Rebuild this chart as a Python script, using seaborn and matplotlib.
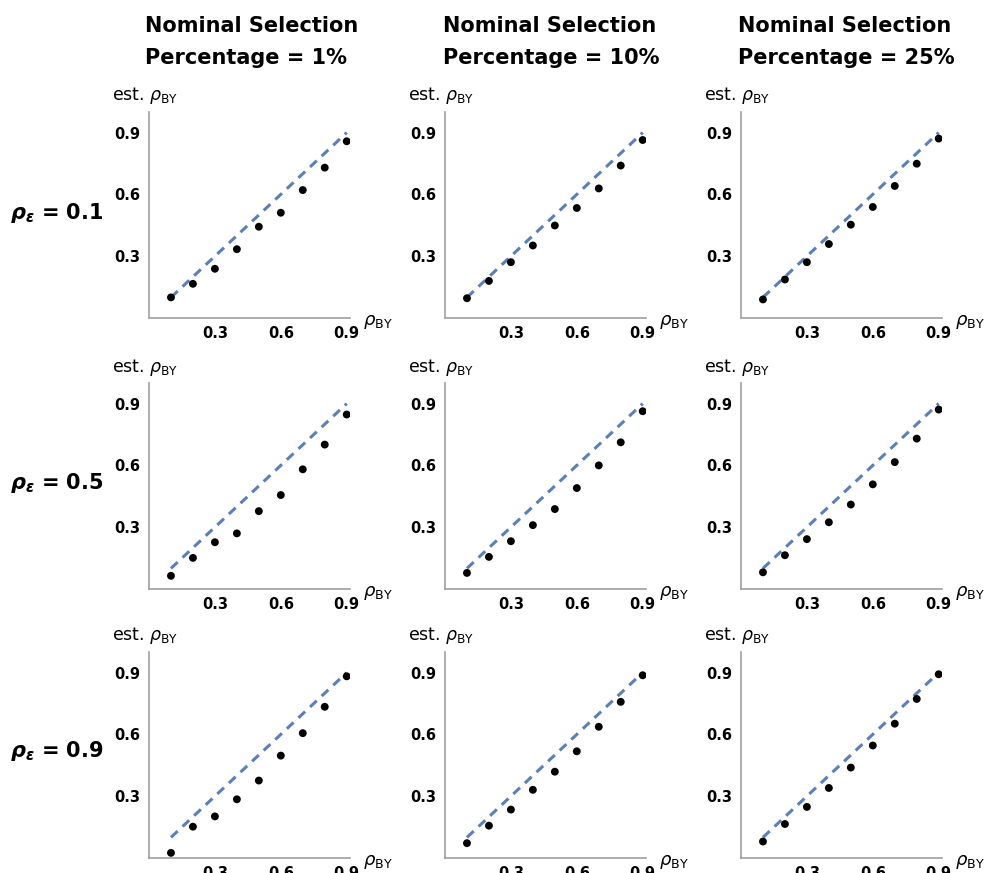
import pandas as pd
import matplotlib.pyplot as plt
import seaborn as sns

# true correlation on the x axis
rho_by = [0.1, 0.2, 0.3, 0.4, 0.5, 0.6, 0.7, 0.8, 0.9]

# estimated correlation, one list per panel (row = rho_eps, col = selection %)
est_e01_p01 = [0.100, 0.166, 0.239, 0.334, 0.443, 0.511, 0.621, 0.730, 0.858]
est_e01_p10 = [0.096, 0.180, 0.271, 0.352, 0.449, 0.534, 0.629, 0.740, 0.864]
est_e01_p25 = [0.090, 0.187, 0.271, 0.359, 0.453, 0.539, 0.641, 0.749, 0.871]
est_e05_p01 = [0.064, 0.151, 0.227, 0.270, 0.378, 0.456, 0.581, 0.701, 0.847]
est_e05_p10 = [0.078, 0.156, 0.232, 0.310, 0.388, 0.490, 0.600, 0.712, 0.863]
est_e05_p25 = [0.081, 0.164, 0.242, 0.324, 0.410, 0.508, 0.616, 0.730, 0.871]
est_e09_p01 = [0.025, 0.152, 0.202, 0.285, 0.376, 0.497, 0.606, 0.734, 0.882]
est_e09_p10 = [0.072, 0.157, 0.235, 0.331, 0.419, 0.518, 0.637, 0.758, 0.887]
est_e09_p25 = [0.080, 0.165, 0.248, 0.340, 0.439, 0.546, 0.652, 0.772, 0.892]

col_titles = ["Nominal Selection\nPercentage = 1%",
              "Nominal Selection\nPercentage = 10%",
              "Nominal Selection\nPercentage = 25%"]
row_labels = [r"$\mathbfit{\rho}_{\mathbfit{\epsilon}}$ = 0.1",
              r"$\mathbfit{\rho}_{\mathbfit{\epsilon}}$ = 0.5",
              r"$\mathbfit{\rho}_{\mathbfit{\epsilon}}$ = 0.9"]
ticks = [0.3, 0.6, 0.9]
tick_labels = ["0.3", "0.6", "0.9"]

panels = [[est_e01_p01, est_e01_p10, est_e01_p25],
          [est_e05_p01, est_e05_p10, est_e05_p25],
          [est_e09_p01, est_e09_p10, est_e09_p25]]

sns.set_style("white")
plt.rcParams['font.family'] = ['DejaVu Sans']
plt.rcParams['mathtext.fontset'] = 'dejavusans'
plt.rcParams['text.color'] = 'black'

W, H = 985, 873
fig = plt.figure(figsize=(W / 100, H / 100), dpi=100)

col_left = [149, 445, 741]
row_top = [112, 383, 652]
aw, ah = 201, 206
line_col = "#5b7fb8"
spine_col = "#a0a0a0"

for i in range(3):
    for j in range(3):
        l, t = col_left[j], row_top[i]
        ax = fig.add_axes([l / W, 1 - (t + ah) / H, aw / W, ah / H])
        df = pd.DataFrame({"rho": rho_by, "est": panels[i][j]})
        # reference line y = x
        sns.lineplot(x=rho_by, y=rho_by, ax=ax, color=line_col,
                     linewidth=2.2, linestyle=(0, (3, 2.2)))
        sns.scatterplot(data=df, x="rho", y="est", ax=ax, color="black",
                        s=32, edgecolor="none", zorder=3)
        ax.set_xlim(0, 0.915)
        ax.set_ylim(0, 1.0)
        ax.set_xticks(ticks)
        ax.set_yticks(ticks)
        ax.set_xticklabels(tick_labels, fontweight="bold", fontsize=10.5)
        ax.set_yticklabels(tick_labels, fontweight="bold", fontsize=10.5)
        ax.tick_params(direction="in", length=3, width=1, color=spine_col,
                       pad=6, labelcolor="black")
        for s in ["top", "right"]:
            ax.spines[s].set_visible(False)
        for s in ["left", "bottom"]:
            ax.spines[s].set_color(spine_col)
            ax.spines[s].set_linewidth(1.2)
        ax.set_xlabel("")
        ax.set_ylabel("")
        # axis labels, Mathematica style
        fig.text((l - 37) / W, 1 - (t - 16) / H, r"est. $\rho_{\mathrm{BY}}$",
                 fontsize=12.5, va="center", ha="left")
        fig.text((l + aw + 13) / W, 1 - (t + ah + 4) / H, r"$\rho_{\mathrm{BY}}$",
                 fontsize=13, va="center", ha="left")

# column titles
col_x = [145, 443, 738]
for j in range(3):
    fig.text(col_x[j] / W, 1 - 42 / H, col_titles[j], fontsize=15,
             fontweight="bold", ha="left", va="center", linespacing=1.75,
             multialignment="left")

# row labels
row_center = [213, 483, 751]
for i in range(3):
    fig.text(10 / W, 1 - row_center[i] / H, row_labels[i], fontsize=15,
             fontweight="bold", ha="left", va="center")

fig.savefig("out.png", dpi=100)
